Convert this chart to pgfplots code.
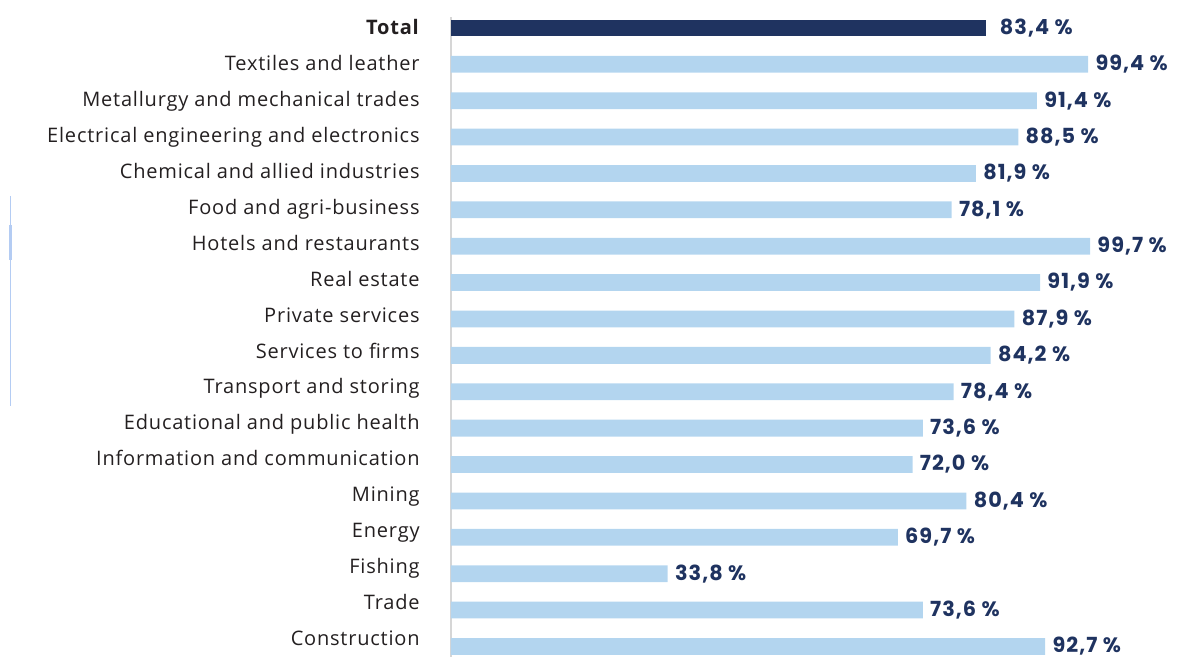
\documentclass[border=0pt]{standalone}
\usepackage{pgfplots}
\pgfplotsset{compat=1.18}
\usepackage{fontspec}
\setmainfont[LetterSpace=4]{Open Sans}
\newfontfamily\valfont[LetterSpace=5]{Poppins}
\definecolor{navy}{HTML}{1F3360}
\definecolor{lblue}{HTML}{B3D5EF}
\definecolor{txt}{HTML}{231F20}
\definecolor{axgray}{HTML}{D6D6D6}
\begin{document}
\begin{tikzpicture}
\useasboundingbox (0,0) rectangle (590pt,328.5pt);
\draw[color=lblue!90!blue!80, line width=0.5pt] (5pt,230.5pt) -- (5pt,125.5pt);
\draw[color=lblue!90!blue!80, line width=1.1pt] (5.2pt,216pt) -- (5.2pt,198.5pt);
\begin{axis}[
  at={(225.5pt,0pt)}, anchor=south west,
  scale only axis, width=320.5pt, height=320pt,
  xmin=0, xmax=100, ymin=-0.29, ymax=17.30,
  xbar, bar width=8.4pt, bar shift=0pt,
  clip=false,
  axis x line=none,
  axis y line=left,
  axis line style={-, draw=axgray, line width=1.3pt},
  ytick={0.213,1.201,2.190,3.178,4.166,5.154,6.143,7.131,8.119,9.108,10.096,11.084,12.073,13.061,14.049,15.037,16.026,17.014},
  yticklabels={Construction,Trade,Fishing,Energy,Mining,Information and communication,Educational and public health,Transport and storing,Services to firms,Private services,Real estate,Hotels and restaurants,Food and agri-business,Chemical and allied industries,Electrical engineering and electronics,Metallurgy and mechanical trades,Textiles and leather,\textbf{Total}},
  major tick length=0pt,
  ytick style={draw=none},
  yticklabel style={font=\fontsize{10}{12}\selectfont, text=txt, inner sep=0pt, anchor=base east, xshift=-15.5pt, yshift=-3.5pt},
  point meta=x,
  nodes near coords={\pgfmathprintnumber[fixed,fixed zerofill,precision=1,use comma,assume math mode=true]{\pgfplotspointmeta}~\%},
  nodes near coords style={font=\valfont\bfseries\fontsize{10.4}{12}\selectfont, text=navy, anchor=base west, inner sep=0pt, xshift=3.5pt, yshift=-3.2pt},
]
\addplot[draw=none, fill=lblue] coordinates {
(92.7,0) (73.6,1) (33.8,2) (69.7,3) (80.4,4) (72.0,5) (73.6,6) (78.4,7) (84.2,8) (87.9,9) (91.9,10) (99.7,11) (78.1,12) (81.9,13) (88.5,14) (91.4,15) (99.4,16)
};
\addplot[draw=none, fill=navy, nodes near coords style={xshift=3.5pt}] coordinates {
(83.4,17)
};
\end{axis}
\end{tikzpicture}
\end{document}
